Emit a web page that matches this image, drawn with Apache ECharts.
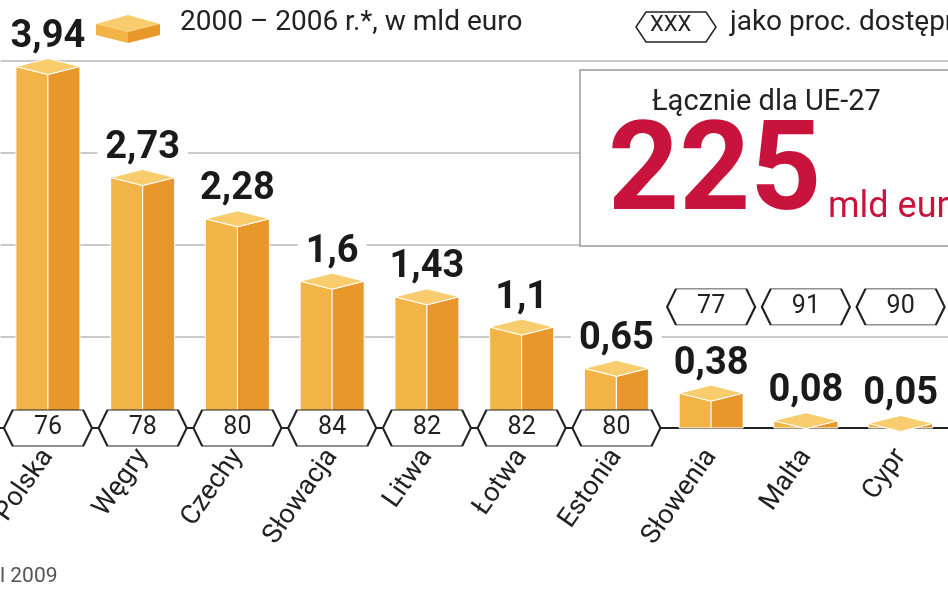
<!DOCTYPE html>
<html><head><meta charset="utf-8">
<script src="https://cdn.jsdelivr.net/npm/echarts@6/dist/echarts.min.js"></script>
<style>html,body{margin:0;background:#fff}#c{width:948px;height:593px}</style>
</head><body><div id="c"></div>
<script>
var countries = ['Polska', 'Węgry', 'Czechy', 'Słowacja', 'Litwa', 'Łotwa', 'Estonia', 'Słowenia', 'Malta', 'Cypr'];
var values = [3.94, 2.73, 2.28, 1.6, 1.43, 1.1, 0.65, 0.38, 0.08, 0.05];
var percents = [76, 78, 80, 84, 82, 82, 80, 77, 91, 90];
var badgeLevel = [0, 0, 0, 0, 0, 0, 0, 1.32, 1.32, 1.32];

var chart = echarts.init(document.getElementById('c'));
var hex = 'path://M0,10 L8,0 L72,0 L80,10 L72,20 L8,20 Z';
var fmt = function (v) { return String(v).replace('.', ','); };

chart.setOption({
  animation: false,
  grid: { left: -91, right: -136, top: 61, bottom: 165 },
  xAxis: {
    type: 'category', data: countries,
    axisLine: { lineStyle: { color: '#222', width: 2 } },
    axisTick: { show: false },
    axisLabel: { rotate: 55, margin: 24, fontSize: 27, color: '#222', fontFamily: 'Roboto' }
  },
  yAxis: {
    min: 0, max: 4.0, interval: 1,
    axisLabel: { show: false }, axisLine: { show: false }, axisTick: { show: false },
    splitLine: { lineStyle: { color: '#b8b8b8', width: 1.5 } }
  },
  series: [{
    type: 'custom',
    clip: false,
    data: values.map(function (v, i) { return [i, v]; }),
    renderItem: function (params, api) {
      var top = api.coord([api.value(0), api.value(1)]);
      var base = api.coord([api.value(0), 0]);
      var w = 32, d = 8, xc = top[0], y = top[1], b = base[1];
      return { type: 'group', children: [
        { type: 'polygon', shape: { points: [[xc - w, y], [xc, y + d], [xc, b], [xc - w, b]] }, style: { fill: '#F3B447', stroke: '#fff', lineWidth: 1 } },
        { type: 'polygon', shape: { points: [[xc, y + d], [xc + w, y], [xc + w, b], [xc, b]] }, style: { fill: '#E8972B', stroke: '#fff', lineWidth: 1 } },
        { type: 'polygon', shape: { points: [[xc - w, y], [xc, y - d], [xc + w, y], [xc, y + d]] }, style: { fill: '#F9CD6E', stroke: '#fff', lineWidth: 1 } },
        { type: 'text', style: { text: fmt(api.value(1)), x: xc, y: y - 10, align: 'center', verticalAlign: 'bottom',
          font: 'bold 38px Roboto', fill: '#1a1a1a', backgroundColor: '#fff', padding: [0, 8] } }
      ] };
    },
    z: 3
  }, {
    type: 'scatter',
    symbol: hex, symbolSize: [88, 36],
    itemStyle: { color: '#fff', borderColor: '#222', borderWidth: 1.5, opacity: 1 },
    label: { show: true, position: 'inside', color: '#222', fontSize: 25, fontFamily: 'Roboto',
      formatter: function (p) { return p.value[2]; } },
    data: percents.map(function (p, i) { return [i, badgeLevel[i], p]; }),
    z: 5
  }],
  graphic: [
    { type: 'polygon', shape: { points: [[96, 24], [128, 15], [160, 24], [128, 32]] }, style: { fill: '#F9CD6E' } },
    { type: 'polygon', shape: { points: [[96, 24], [128, 32], [128, 43], [96, 35]] }, style: { fill: '#F3B447' } },
    { type: 'polygon', shape: { points: [[128, 32], [160, 24], [160, 35], [128, 43]] }, style: { fill: '#E8972B' } },
    { type: 'text', left: 180, top: 9, style: { text: '2000 – 2006 r.*, w mld euro', font: '28px Roboto', fill: '#222' } },
    { type: 'polygon', shape: { points: [[636, 27], [646, 12], [706, 12], [716, 27], [706, 42], [646, 42]] }, style: { fill: '#fff', stroke: '#222', lineWidth: 1.5 } },
    { type: 'text', left: 650, top: 14, style: { text: 'XXX', font: '22px Roboto', fill: '#222' } },
    { type: 'text', left: 730, top: 9, style: { text: 'jako proc. dostępnych środków', font: '28px Roboto', fill: '#222' } },
    { type: 'rect', shape: { x: 580, y: 70, width: 420, height: 176 }, style: { fill: '#fff', stroke: '#999', lineWidth: 1.5 }, z: 10 },
    { type: 'text', left: 652, top: 88, z: 11, style: { text: 'Łącznie dla UE-27', font: '29px Roboto', fill: '#222' } },
    { type: 'text', left: 608, top: 116, z: 11, style: { text: '225', font: 'bold 124px Roboto', fill: '#C8143C' } },
    { type: 'text', left: 828, top: 190, z: 11, style: { text: 'mld euro', font: '36px Roboto', fill: '#C8143C' } },
    { type: 'text', left: 0, top: 566, style: { text: 'l 2009', font: '21px Roboto', fill: '#555' } }
  ]
});
</script></body></html>
